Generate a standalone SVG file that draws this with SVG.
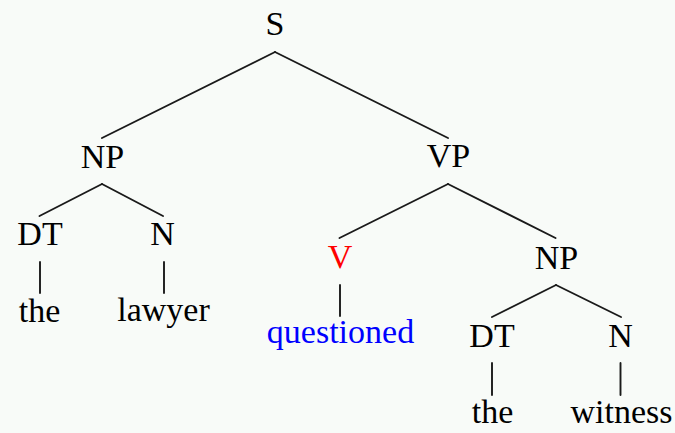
<svg xmlns="http://www.w3.org/2000/svg" width="675" height="433" viewBox="0 0 675 433">
<style>
text{font-family:"Liberation Serif","Times New Roman",serif;font-size:34px;text-anchor:middle;fill:#000}
.v{fill:#ff0000}
.w{fill:#0000ff}
#edges line{stroke:#1a1a1a;stroke-width:1.9;stroke-linecap:round}
</style>
<rect width="675" height="433" fill="#f8fbf8"/>
<g id="edges">
<line x1="275" y1="52" x2="102" y2="138"/>
<line x1="275" y1="52" x2="448" y2="138"/>
<line x1="102" y1="184" x2="39.5" y2="216"/>
<line x1="102" y1="184" x2="163" y2="216"/>
<line x1="448" y1="184" x2="339.5" y2="238"/>
<line x1="448" y1="184" x2="555.5" y2="238"/>
<line x1="556" y1="285" x2="492" y2="317"/>
<line x1="556" y1="285" x2="621" y2="317"/>
<line x1="40" y1="262" x2="40" y2="293"/>
<line x1="164" y1="262" x2="164" y2="293"/>
<line x1="340" y1="285" x2="340" y2="316"/>
<line x1="492" y1="363" x2="492" y2="395"/>
<line x1="620.5" y1="363" x2="620.5" y2="395"/>
</g>
<g id="n-S"><text x="275" y="35">S</text></g>
<g id="n-NP1"><text x="102.5" y="167.5">NP</text></g>
<g id="n-VP"><text x="448.5" y="166.5">VP</text></g>
<g id="n-DT1"><text x="40" y="245">DT</text></g>
<g id="n-N1"><text x="162.5" y="244.5">N</text></g>
<g id="n-the1"><text x="39.5" y="321.5">the</text></g>
<g id="n-lawyer"><text x="163.5" y="321">lawyer</text></g>
<g id="n-V"><text class="v" x="340" y="267.5">V</text></g>
<g id="n-questioned"><text class="w" x="340.5" y="342.5">questioned</text></g>
<g id="n-NP2"><text x="556.5" y="269">NP</text></g>
<g id="n-DT2"><text x="492" y="346.5">DT</text></g>
<g id="n-N2"><text x="620.5" y="346.5">N</text></g>
<g id="n-the2"><text x="492.5" y="422.5">the</text></g>
<g id="n-witness"><text x="621.5" y="422.5">witness</text></g>
</svg>
